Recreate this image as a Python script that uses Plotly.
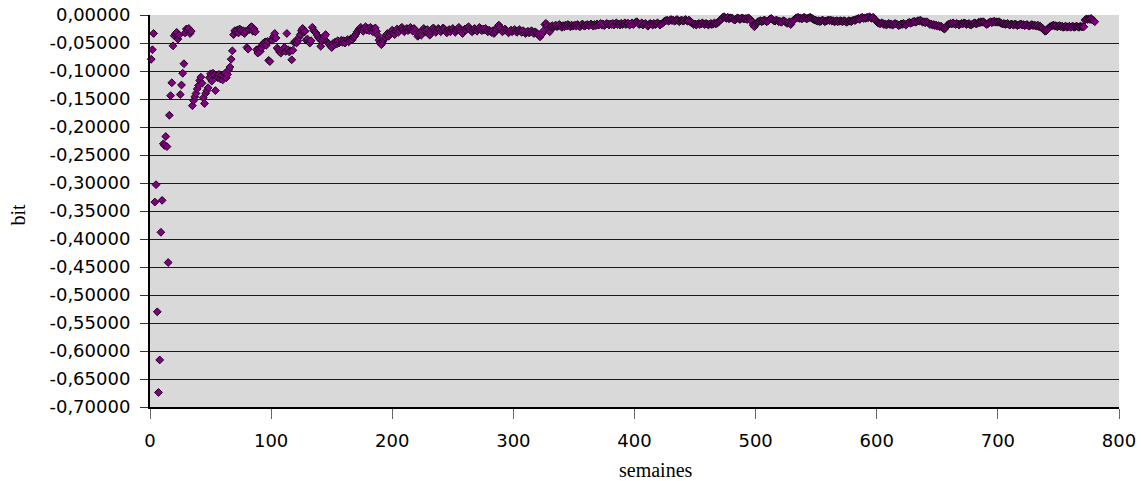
import plotly.graph_objects as go

# ---- data (bit per week) ----
bit_values = [
    -0.079, -0.062, -0.033, -0.334, -0.303, -0.530, -0.674, -0.616, -0.388, -0.331,
    -0.230, -0.233, -0.217, -0.235, -0.442, -0.179, -0.144, -0.121, -0.055, -0.037,
    -0.034, -0.031, -0.043, -0.036, -0.142, -0.125, -0.104, -0.087, -0.032, -0.025,
    -0.028, -0.024, -0.033, -0.029, -0.162, -0.153, -0.146, -0.140, -0.132, -0.126,
    -0.117, -0.111, -0.122, -0.148, -0.158, -0.140, -0.135, -0.130, -0.112, -0.105,
    -0.118, -0.104, -0.107, -0.135, -0.110, -0.112, -0.106, -0.114, -0.108, -0.116,
    -0.110, -0.104, -0.112, -0.106, -0.098, -0.093, -0.079, -0.064, -0.035, -0.028,
    -0.030, -0.027, -0.032, -0.025, -0.027, -0.030, -0.028, -0.033, -0.029, -0.058,
    -0.061, -0.026, -0.022, -0.021, -0.029, -0.025, -0.030, -0.062, -0.068, -0.060,
    -0.065, -0.059, -0.052, -0.050, -0.048, -0.054, -0.047, -0.081, -0.083, -0.045,
    -0.045, -0.038, -0.033, -0.041, -0.059, -0.062, -0.066, -0.068, -0.064, -0.060,
    -0.058, -0.065, -0.033, -0.062, -0.066, -0.064, -0.080, -0.063, -0.049, -0.047,
    -0.050, -0.046, -0.040, -0.035, -0.028, -0.024, -0.031, -0.029, -0.045, -0.043,
    -0.048, -0.050, -0.046, -0.022, -0.027, -0.030, -0.032, -0.036, -0.040, -0.043,
    -0.056, -0.046, -0.042, -0.038, -0.035, -0.048, -0.050, -0.052, -0.055, -0.058,
    -0.051, -0.054, -0.048, -0.052, -0.046, -0.050, -0.048, -0.045, -0.049, -0.046,
    -0.050, -0.047, -0.044, -0.048, -0.045, -0.042, -0.044, -0.040, -0.038, -0.034,
    -0.030, -0.027, -0.025, -0.022, -0.026, -0.029, -0.024, -0.021, -0.027, -0.024,
    -0.028, -0.022, -0.026, -0.030, -0.025, -0.023, -0.029, -0.036, -0.045, -0.050,
    -0.053, -0.048, -0.044, -0.040, -0.036, -0.033, -0.038, -0.034, -0.030, -0.027,
    -0.032, -0.035, -0.029, -0.025, -0.031, -0.028, -0.024, -0.022, -0.026, -0.030,
    -0.027, -0.024, -0.028, -0.025, -0.022, -0.026, -0.029, -0.024, -0.027, -0.033,
    -0.038, -0.036, -0.031, -0.036, -0.028, -0.024, -0.027, -0.030, -0.026, -0.033,
    -0.036, -0.029, -0.025, -0.023, -0.027, -0.031, -0.028, -0.024, -0.026, -0.030,
    -0.027, -0.023, -0.025, -0.029, -0.032, -0.028, -0.026, -0.030, -0.027, -0.024,
    -0.028, -0.031, -0.027, -0.025, -0.022, -0.026, -0.029, -0.033, -0.028, -0.025,
    -0.027, -0.023, -0.021, -0.025, -0.028, -0.030, -0.026, -0.024, -0.027, -0.029,
    -0.025, -0.022, -0.026, -0.028, -0.025, -0.027, -0.024, -0.028, -0.030, -0.027,
    -0.029, -0.031, -0.028, -0.033, -0.030, -0.025, -0.021, -0.018, -0.022, -0.026,
    -0.030, -0.028, -0.025, -0.027, -0.029, -0.032, -0.029, -0.027, -0.030, -0.028,
    -0.026, -0.029, -0.031, -0.028, -0.026, -0.029, -0.031, -0.028, -0.030, -0.033,
    -0.031, -0.029, -0.032, -0.030, -0.028, -0.031, -0.033, -0.030, -0.032, -0.034,
    -0.036, -0.039, -0.035, -0.033, -0.028, -0.017, -0.015, -0.020, -0.024, -0.030,
    -0.021, -0.019, -0.022, -0.020, -0.018, -0.021, -0.019, -0.017, -0.020, -0.022,
    -0.019, -0.021, -0.018, -0.020, -0.017, -0.019, -0.021, -0.018, -0.020, -0.019,
    -0.018, -0.020, -0.017, -0.019, -0.021, -0.018, -0.016, -0.019, -0.020, -0.018,
    -0.017, -0.019, -0.018, -0.016, -0.018, -0.020, -0.017, -0.019, -0.016, -0.018,
    -0.017, -0.015, -0.018, -0.016, -0.019, -0.017, -0.015, -0.016, -0.018, -0.016,
    -0.017, -0.015, -0.018, -0.016, -0.014, -0.017, -0.016, -0.018, -0.015, -0.017,
    -0.016, -0.014, -0.017, -0.015, -0.015, -0.018, -0.016, -0.014, -0.017, -0.015,
    -0.013, -0.012, -0.015, -0.017, -0.016, -0.014, -0.018, -0.016, -0.015, -0.017,
    -0.020, -0.017, -0.015, -0.016, -0.018, -0.015, -0.017, -0.016, -0.014, -0.016,
    -0.018, -0.016, -0.015, -0.013, -0.011, -0.010, -0.009, -0.011, -0.010, -0.008,
    -0.010, -0.009, -0.011, -0.010, -0.008, -0.010, -0.012, -0.010, -0.009, -0.011,
    -0.010, -0.008, -0.010, -0.011, -0.009, -0.012, -0.014, -0.015, -0.017, -0.016,
    -0.018, -0.016, -0.015, -0.017, -0.016, -0.014, -0.016, -0.017, -0.015, -0.016,
    -0.018, -0.016, -0.015, -0.017, -0.016, -0.014, -0.016, -0.015, -0.013, -0.011,
    -0.009, -0.007, -0.004, -0.003, -0.005, -0.006, -0.004, -0.007, -0.005, -0.005,
    -0.006, -0.008, -0.009, -0.007, -0.005, -0.006, -0.008, -0.006, -0.005, -0.007,
    -0.007, -0.006, -0.008, -0.005, -0.007, -0.009, -0.012, -0.018, -0.021, -0.016,
    -0.014, -0.012, -0.011, -0.010, -0.012, -0.011, -0.009, -0.010, -0.012, -0.011,
    -0.009, -0.007, -0.006, -0.008, -0.010, -0.011, -0.009, -0.010, -0.012, -0.011,
    -0.013, -0.012, -0.010, -0.011, -0.013, -0.015, -0.014, -0.012, -0.017, -0.013,
    -0.010, -0.008, -0.006, -0.005, -0.004, -0.006, -0.005, -0.007, -0.006, -0.004,
    -0.005, -0.007, -0.006, -0.005, -0.004, -0.005, -0.007, -0.008, -0.009, -0.010,
    -0.011, -0.010, -0.012, -0.011, -0.009, -0.010, -0.012, -0.011, -0.010, -0.009,
    -0.010, -0.009, -0.011, -0.010, -0.012, -0.011, -0.010, -0.012, -0.011, -0.010,
    -0.011, -0.012, -0.010, -0.011, -0.013, -0.012, -0.010, -0.011, -0.012, -0.010,
    -0.009, -0.010, -0.008, -0.007, -0.006, -0.008, -0.005, -0.004, -0.006, -0.005,
    -0.006, -0.004, -0.005, -0.003, -0.005, -0.006, -0.004, -0.007, -0.009, -0.012,
    -0.014, -0.015, -0.016, -0.014, -0.015, -0.017, -0.016, -0.018, -0.016, -0.015,
    -0.017, -0.016, -0.018, -0.017, -0.015, -0.016, -0.017, -0.019, -0.018, -0.016,
    -0.017, -0.015, -0.016, -0.018, -0.016, -0.014, -0.013, -0.015, -0.014, -0.012,
    -0.011, -0.013, -0.012, -0.010, -0.011, -0.009, -0.011, -0.013, -0.012, -0.014,
    -0.012, -0.013, -0.015, -0.017, -0.016, -0.018, -0.017, -0.019, -0.018, -0.020,
    -0.019, -0.021, -0.020, -0.022, -0.024, -0.025, -0.022, -0.019, -0.017, -0.016,
    -0.015, -0.016, -0.014, -0.016, -0.017, -0.015, -0.016, -0.018, -0.016, -0.015,
    -0.016, -0.014, -0.015, -0.017, -0.016, -0.015, -0.017, -0.018, -0.016, -0.015,
    -0.014, -0.016, -0.015, -0.013, -0.014, -0.012, -0.013, -0.012, -0.014, -0.016,
    -0.017, -0.015, -0.013, -0.012, -0.014, -0.012, -0.011, -0.013, -0.012, -0.013,
    -0.012, -0.014, -0.015, -0.016, -0.015, -0.017, -0.016, -0.015, -0.017, -0.018,
    -0.016, -0.017, -0.018, -0.016, -0.017, -0.019, -0.018, -0.017, -0.016, -0.018,
    -0.017, -0.019, -0.018, -0.017, -0.019, -0.020, -0.018, -0.017, -0.019, -0.018,
    -0.019, -0.020, -0.018, -0.021, -0.020, -0.022, -0.024, -0.027, -0.029, -0.028,
    -0.025, -0.023, -0.021, -0.020, -0.019, -0.018, -0.020, -0.019, -0.021, -0.020,
    -0.019, -0.021, -0.020, -0.022, -0.021, -0.020, -0.022, -0.021, -0.020, -0.022,
    -0.021, -0.020, -0.022, -0.021, -0.020, -0.021, -0.022, -0.020, -0.021, -0.021,
    -0.021, -0.009, -0.007, -0.008, -0.007, -0.008, -0.006, -0.009, -0.010, -0.012,
]
weeks = list(range(1, len(bit_values) + 1))

y_tick_vals = [0.0, -0.05, -0.10, -0.15, -0.20, -0.25, -0.30, -0.35,
               -0.40, -0.45, -0.50, -0.55, -0.60, -0.65, -0.70]
y_tick_labels = ["0,00000", "-0,05000", "-0,10000", "-0,15000", "-0,20000",
                 "-0,25000", "-0,30000", "-0,35000", "-0,40000", "-0,45000",
                 "-0,50000", "-0,55000", "-0,60000", "-0,65000", "-0,70000"]
x_tick_vals = [0, 100, 200, 300, 400, 500, 600, 700, 800]
x_title = "semaines"
y_title = "bit"

fig = go.Figure()
fig.add_trace(go.Scatter(
    x=weeks, y=bit_values, mode="markers",
    marker=dict(symbol="diamond", size=6, color="#800080",
                line=dict(color="#1a001a", width=1)),
    cliponaxis=False, showlegend=False,
))

tick_font = dict(family="DejaVu Sans", size=18, color="black")
title_font = dict(family="Liberation Serif", size=20, color="black")

fig.update_layout(
    width=1141, height=481,
    margin=dict(l=150, r=22, t=15, b=74, autoexpand=False),
    paper_bgcolor="white", plot_bgcolor="#D9D9D9",
    showlegend=False,
    xaxis=dict(range=[0, 800], tickvals=x_tick_vals, ticks="outside",
               ticklen=10, tickcolor="#666666", tickwidth=1,
               showline=True, linecolor="black", linewidth=2,
               showgrid=False, zeroline=False, tickfont=tick_font,
               ticklabelstandoff=6, automargin=False),
    yaxis=dict(range=[-0.7, 0.0], tickvals=y_tick_vals, ticktext=y_tick_labels,
               ticks="outside", ticklen=8, tickcolor="#333333", tickwidth=1,
               showline=True, linecolor="black", linewidth=2,
               showgrid=True, gridcolor="#1a1a1a", gridwidth=1,
               zeroline=False, tickfont=tick_font, ticklabelstandoff=6,
               automargin=False),
    annotations=[
        dict(text=x_title, xref="paper", yref="paper", x=0.522, y=-0.16,
             xanchor="center", yanchor="middle", showarrow=False,
             font=title_font),
        dict(text=y_title, xref="paper", yref="paper", x=-0.1367, y=0.49,
             xanchor="center", yanchor="middle", textangle=-90,
             showarrow=False, font=title_font),
    ],
)

fig.write_html(
    "out.html",
    config={"responsive": False, "displayModeBar": False},
    post_script="document.body.style.margin='0px';document.body.style.padding='0px';",
)
